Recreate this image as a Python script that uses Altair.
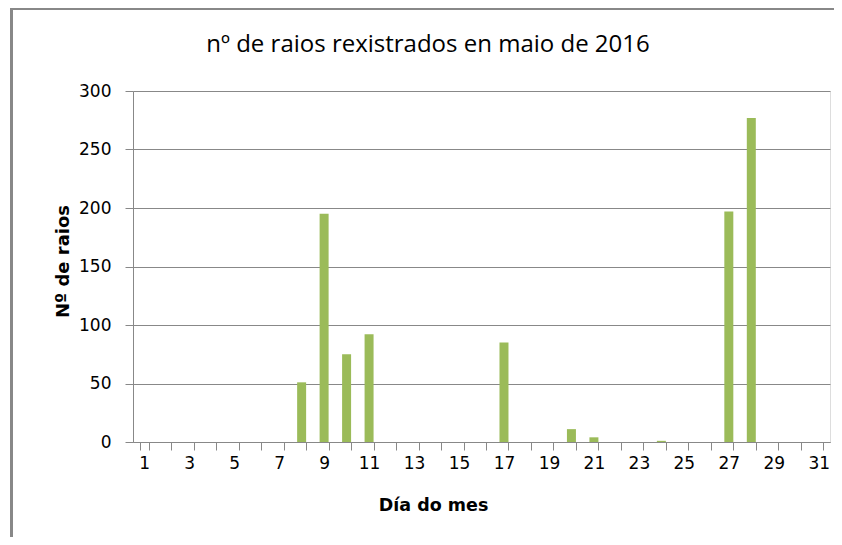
import altair as alt
import pandas as pd

days = list(range(1, 32))
raios = [0, 0, 0, 0, 0, 0, 0, 51, 195, 75, 92, 0, 0, 0, 0, 0, 85, 0, 0, 11, 4, 0, 0, 1, 0, 0, 197, 277, 0, 0, 0]
y_ticks = [0, 50, 100, 150, 200, 250, 300]
title_text = ["nº de raios rexistrados en maio de 2016"]

df = pd.DataFrame({"dia": days, "raios": raios})

FONT = "DejaVu Sans"
TFONT = "Open Sans"

bars = alt.Chart(df).mark_bar(color="#9BBB59").encode(
    x=alt.X("dia:O", title="Día do mes",
            scale=alt.Scale(paddingInner=0.6, paddingOuter=0.3),
            axis=alt.Axis(labelAngle=0, tickBand="extent",
                          labelExpr="datum.value % 2 == 1 ? datum.label : ''",
                          labelFontSize=17, labelFont=FONT, labelColor="#000",
                          labelPadding=5, tickSize=8, tickColor="#888", domainColor="#888",
                          titleFont=FONT, titleFontSize=17.5, titleFontWeight="bold",
                          titleColor="#000", titleX=300, titleY=63, titleBaseline="middle",
                          grid=False)),
    y=alt.Y("raios:Q", title="Nº de raios",
            scale=alt.Scale(domain=[0, 300], nice=False),
            axis=alt.Axis(values=y_ticks, labelFontSize=17, labelFont=FONT, labelColor="#000",
                          labelPadding=14, tickSize=8, tickColor="#888", domainColor="#888",
                          gridColor="#888", gridWidth=1,
                          titleFont=FONT, titleFontSize=18, titleFontWeight="bold",
                          titleColor="#000", titleX=-70, titleY=170, titleBaseline="middle",
                          titleAngle=-90)),
)

frame_v = alt.Chart(df).mark_rule(color="#888", strokeWidth=3).encode(
    x=alt.value(-121.5), y=alt.value(-82), y2=alt.value(470)
)
frame_h = alt.Chart(df).mark_rule(color="#888", strokeWidth=1.5).encode(
    x=alt.value(-123), x2=alt.value(720), y=alt.value(-82)
)

title = alt.Chart(pd.DataFrame({"t": title_text})).mark_text(
    font=TFONT, fontSize=24, color="#000", align="center", baseline="middle"
).encode(text="t:N", x=alt.value(295), y=alt.value(-46))

chart = alt.layer(frame_v, frame_h, bars, title).properties(
    width=697, height=351,
    autosize=alt.AutoSizeParams(type="none"),
    padding={"left": 125, "top": 83, "right": 4, "bottom": 95},
).configure_view(stroke=None).configure(background="white")

chart.save("out.html", embed_options={"renderer": "svg", "actions": False})
